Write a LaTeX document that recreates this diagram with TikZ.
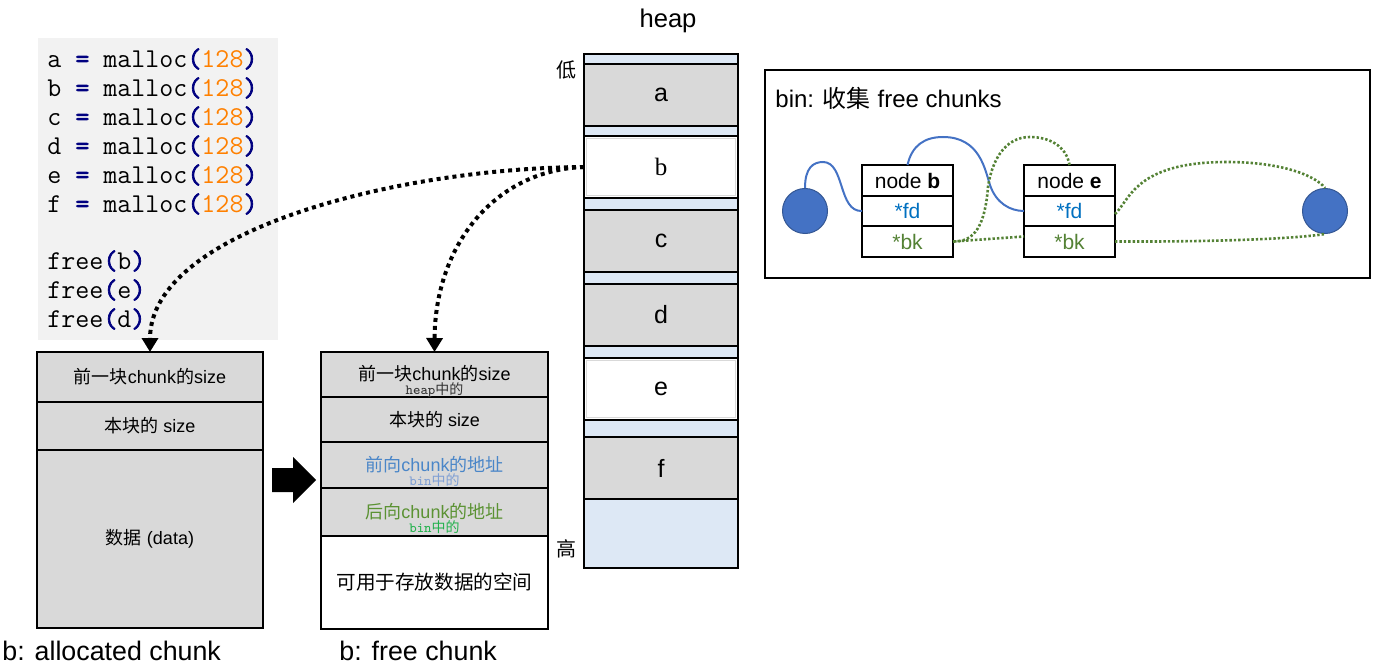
\documentclass[tikz,border=0pt]{standalone}
\usepackage{fontspec}
\setmainfont{Liberation Sans}
\newfontfamily\cjk{Noto Sans CJK SC}
\newfontfamily\serifb{Liberation Serif}
\newfontfamily\codebold[FakeBold=2.5]{Latin Modern Mono}
\usetikzlibrary{positioning,arrows.meta}

\definecolor{codegray}{HTML}{F2F2F2}
\definecolor{chunkgray}{HTML}{D9D9D9}
\definecolor{gapblue}{HTML}{DDE8F5}
\definecolor{opblue}{HTML}{000080}
\definecolor{numorange}{HTML}{FF8000}
\definecolor{fdblue}{HTML}{0070C0}
\definecolor{bkgreen}{HTML}{548235}
\definecolor{fwdblue}{HTML}{4A86C8}
\definecolor{binblue}{HTML}{7F9FD4}
\definecolor{bwdgreen}{HTML}{5B9233}
\definecolor{bingreen}{HTML}{22B14C}
\definecolor{nodeblue}{HTML}{4472C4}

\newcommand{\codeop}[1]{\textcolor{opblue}{\codebold #1}}
\newcommand{\codenum}[1]{\textcolor{numorange}{#1}}

\tikzset{
  code/.style={anchor=west, inner sep=0, font=\ttfamily\fontsize{13.6pt}{15pt}\selectfont},
  chunkrow/.style={draw, line width=0.8pt, fill=chunkgray, minimum width=113pt, inner sep=0, outer sep=0, font=\fontsize{9pt}{11pt}\selectfont},
  sublabel/.style={inner sep=0, font=\ttfamily\fontsize{7pt}{8pt}\selectfont},
  heapcell/.style={draw, line width=1pt, fill=chunkgray, minimum width=77pt, inner sep=0, outer sep=0, anchor=north west, font=\fontsize{12.5pt}{14pt}\selectfont},
  gapcell/.style={heapcell, fill=gapblue},
  freecell/.style={heapcell, fill=white, path picture={
      \draw[black!15, line width=0.8pt] ([shift={(1.2pt,-1.2pt)}]path picture bounding box.north west) rectangle ([shift={(-1.2pt,1.2pt)}]path picture bounding box.south east);}},
  caption/.style={anchor=west, inner sep=0, font=\fontsize{13.4pt}{15pt}\selectfont},
  binrow/.style={draw, line width=0.8pt, fill=white, minimum width=45.5pt, inner sep=0, outer sep=0, font=\fontsize{10.5pt}{12pt}\selectfont},
  binend/.style={circle, draw=nodeblue!75!black, fill=nodeblue, minimum size=22.5pt, inner sep=0, line width=0.5pt},
  fdlink/.style={nodeblue, line width=1pt},
  bklink/.style={bkgreen, line width=1.3pt, dash pattern=on 1.2pt off 1pt},
  moveto/.style={line width=2pt, dash pattern=on 2pt off 2pt, -{Triangle[width=8pt,length=7pt]}}
}

\begin{document}
\begin{tikzpicture}[x=0.5pt, y=-0.5pt]
\useasboundingbox (0,0) rectangle (1375,668);

% code
\fill[codegray] (38,38) rectangle (278,340);
\foreach \v [count=\i from 0] in {a,b,c,d,e,f}
  \node[code] (m\v) at (47,59+29*\i) {\v{} \codeop{=} malloc\codeop{(}\codenum{128}\codeop{)}};
\node[code] (fb) at (47,261) {free\codeop{(}b\codeop{)}};
\node[code] (fe) at (47,290) {free\codeop{(}e\codeop{)}};
\node[code] (fd) at (47,319) {free\codeop{(}d\codeop{)}};

% allocated chunk
\node[chunkrow, anchor=north west, minimum height=25pt] (al1) at (37,352) {{\cjk 前一块}chunk{\cjk 的}size};
\node[chunkrow, below=0pt of al1, minimum height=24pt] (al2) {{\cjk 本块的} size};
\node[chunkrow, below=0pt of al2, minimum height=89pt] (al3) {{\cjk 数据} (data)};
\node[caption] (alcap) at (2,651) {b: allocated chunk};

\fill (272,468) -- (293,468) -- (293,457) -- (316,480) -- (293,503) -- (293,492) -- (272,492) -- cycle;

% free chunk
\node[chunkrow, anchor=north west, minimum width=113.5pt, minimum height=22.5pt] (fr1) at (321,352) {\raisebox{1.2pt}{{\cjk 前一块}chunk{\cjk 的}size}};
\node[chunkrow, below=0pt of fr1, minimum width=113.5pt, minimum height=22.5pt] (fr2) {{\cjk 本块的} size};
\node[chunkrow, below=0pt of fr2, minimum width=113.5pt, minimum height=23pt, text=fwdblue] (fr3) {\raisebox{0.8pt}{{\cjk 前向}chunk{\cjk 的地址}}};
\node[chunkrow, below=0pt of fr3, minimum width=113.5pt, minimum height=24pt, text=bwdgreen] (fr4) {\raisebox{0.8pt}{{\cjk 后向}chunk{\cjk 的地址}}};
\node[chunkrow, below=0pt of fr4, minimum width=113.5pt, minimum height=46.5pt, fill=white, font=\fontsize{9.8pt}{11pt}\selectfont] (fr5) {{\cjk 可用于存放数据的空间}};
\node[sublabel, text=black!80] (s1) at ([yshift=3.2pt]fr1.south) {heap{\cjk 中的}};
\node[sublabel, text=binblue] (s3) at ([yshift=4pt]fr3.south) {bin{\cjk 中的}};
\node[sublabel, text=bingreen] (s4) at ([yshift=4.5pt]fr4.south) {bin{\cjk 中的}};
\node[caption] (frcap) at (339,651) {b: free chunk};

% heap
\node[font=\fontsize{12.8pt}{15pt}\selectfont] (heaptitle) at (668,21) {heap};
\node[gapcell, minimum height=5pt] (g0) at (584,54) {};
\node[heapcell, minimum height=31pt] (ha) at (584,64) {a};
\node[gapcell, minimum height=5pt] (g1) at (584,126) {};
\node[freecell, minimum height=31pt, font=\serifb\fontsize{12.5pt}{14pt}\selectfont] (hb) at (584,136) {b};
\node[gapcell, minimum height=6pt] (g2) at (584,198) {};
\node[heapcell, minimum height=31pt] (hc) at (584,210) {c};
\node[gapcell, minimum height=6pt] (g3) at (584,272) {};
\node[heapcell, minimum height=31pt] (hd) at (584,284) {d};
\node[gapcell, minimum height=6pt] (g4) at (584,346) {};
\node[freecell, minimum height=31pt] (he) at (584,358) {e};
\node[gapcell, minimum height=8.5pt] (g5) at (584,420) {};
\node[heapcell, minimum height=31pt] (hf) at (584,437) {f};
\node[gapcell, minimum height=34.5pt] (g6) at (584,499) {};
\node[font=\cjk\fontsize{10pt}{12pt}\selectfont] (low) at (566,70) {低};
\node[font=\cjk\fontsize{10pt}{12pt}\selectfont] (high) at (566,549) {高};

\draw[moveto] (hb.west) .. controls (400,168) and (150,230) .. (al1.north);
\draw[moveto] (hb.west) .. controls (495,170) and (435,245) .. (fr1.north);

% bin
\node[draw, line width=0.8pt, anchor=north west, minimum width=302.5pt, minimum height=104pt, inner sep=0] (binbox) at (764,69) {};
\node[anchor=west, inner sep=0, font=\fontsize{12pt}{14pt}\selectfont] (bintitle) at (775,98) {bin: {\cjk 收集} free chunks};
\node[binrow, anchor=north west, minimum height=15.5pt] (nb) at (862,165) {node \textbf{b}};
\node[binrow, below=0pt of nb, minimum height=15pt, text=fdblue] (nbfd) {*fd};
\node[binrow, below=0pt of nbfd, minimum height=15.5pt, text=bkgreen] (nbbk) {*bk};
\node[binrow, anchor=north west, minimum height=15.5pt] (ne) at (1024,165) {node \textbf{e}};
\node[binrow, below=0pt of ne, minimum height=15pt, text=fdblue] (nefd) {*fd};
\node[binrow, below=0pt of nefd, minimum height=15.5pt, text=bkgreen] (nebk) {*bk};
\node[binend] (binL) at (805,211) {};
\node[binend] (binR) at (1325,211) {};

\draw[fdlink] (binL.north) .. controls (805,168) and (813,162) .. (823,162) .. controls (845,162) and (838,212) .. (nbfd.west);
\draw[fdlink] (nb.north) .. controls (912,145) and (925,137) .. (943,137) .. controls (980,137) and (985,170) .. (990,185) .. controls (996,203) and (1010,211) .. (nefd.west);
\draw[bklink] (ne.north) .. controls (1066,145) and (1048,137) .. (1030,137) .. controls (1005,137) and (992,160) .. (988,187) .. controls (985,225) and (975,242) .. (nbbk.east);
\draw[bklink] (nbbk.east) -- ([yshift=2.5pt]nebk.west);
\draw[bklink] ([yshift=-1.5pt]nefd.east) .. controls (1130,200) and (1135,162) .. (1227,162) .. controls (1280,162) and (1315,175) .. (binR.north);
\draw[bklink] (nebk.east) .. controls (1230,242) and (1300,238) .. (binR.south);
\end{tikzpicture}
\end{document}
